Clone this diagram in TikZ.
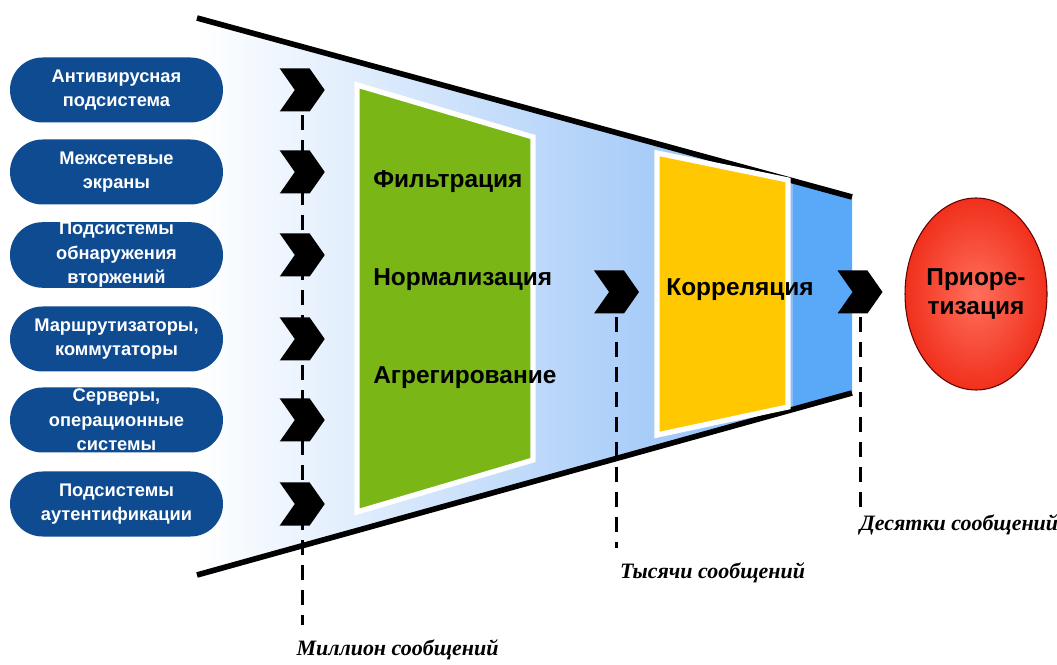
\documentclass[tikz,border=0pt]{standalone}
\usepackage{fontspec}
\setmainfont{Liberation Serif}
\setsansfont{Liberation Sans}
\usepackage{tikz}
\usetikzlibrary{positioning, calc, backgrounds, shapes.geometric, shapes.symbols}
\definecolor{srcblue}{RGB}{15,75,145}
\definecolor{funnelblue}{RGB}{140,188,246}
\definecolor{funneldark}{RGB}{90,168,248}
\definecolor{filtgreen}{RGB}{122,182,22}
\definecolor{corryellow}{RGB}{255,200,0}
\definecolor{prioinner}{RGB}{255,112,92}
\definecolor{priouter}{RGB}{240,48,28}

\begin{document}
\begin{tikzpicture}[
  srcbox/.style={rounded corners=0.65cm, fill=srcblue, text=white, align=center,
                 minimum width=4.26cm, minimum height=1.3cm, inner sep=0pt,
                 font=\sffamily\bfseries\fontsize{10.4}{14}\selectfont},
  chev/.style={signal, signal to=east, signal from=west, signal pointer angle=110,
               fill=black, inner sep=0pt, minimum width=0.9cm, minimum height=0.86cm},
  stage/.style={draw=white, line width=3pt, fill=#1},
  stagetext/.style={anchor=west, inner sep=0pt,
                    font=\sffamily\bfseries\fontsize{13.9}{17}\selectfont},
  funnel/.style={line width=3.2pt},
  level/.style={line width=1.7pt, dash pattern=on 0.3cm off 0.2cm},
  count/.style={font=\rmfamily\bfseries\itshape\fontsize{12.5}{15}\selectfont},
  prio/.style={ellipse, draw=black!60!red, line width=0.6pt, inner sep=0pt,
               inner color=prioinner, outer color=priouter, align=center,
               minimum width=2.84cm, minimum height=3.84cm,
               font=\sffamily\bfseries\fontsize{13.9}{17}\selectfont},
]
\useasboundingbox (0,0) rectangle (21.14,13.28);

% sources
\node[srcbox] (src1) at (2.33,11.48) {Антивирусная\\подсистема};
\node[srcbox] (src2) at (2.33,9.84) {Межсетевые\\экраны};
\node[srcbox] (src3) at (2.33,8.18) {Подсистемы\\обнаружения\\вторжений};
\node[srcbox] (src4) at (2.33,6.50) {Маршрутизаторы,\\коммутаторы};
\node[srcbox] (src5) at (2.33,4.88) {Серверы,\\операционные\\системы};
\node[srcbox] (src6) at (2.33,3.20) {Подсистемы\\аутентификации};

\node[chev, right=1.42cm of src1] (ch1) {};
\node[chev, right=1.42cm of src2] (ch2) {};
\node[chev, right=1.42cm of src3] (ch3) {};
\node[chev, right=1.42cm of src4] (ch4) {};
\node[chev, right=1.42cm of src5] (ch5) {};
\node[chev, right=1.42cm of src6] (ch6) {};
\node[chev] (chcorr) at (12.33,7.44) {};
\node[chev] (chprio) at (17.2,7.44) {};

\node[prio] (prio) at (19.52,7.40) {Приоре-\\тизация};

% message counts
\node[count] (cnt1) at (7.95,0.28) {Миллион сообщений};
\node[count] (cnt2) at (14.25,1.82) {Тысячи сообщений};
\node[count] (cnt3) at (19.18,2.78) {Десятки сообщений};
\coordinate (e1) at (ch1 |- 0,0.78);
\coordinate (e2) at (chcorr |- 0,2.32);
\coordinate (e3) at (chprio |- 0,3.12);

\begin{scope}[on background layer]
  \coordinate (tl) at (3.94,12.92);
  \coordinate (tr) at (17.04,9.34);
  \coordinate (bl) at (3.94,1.78);
  \coordinate (br) at (17.04,5.42);
  \shade[left color=white, middle color=funnelblue!42, right color=funnelblue]
    (tl) -- ($(tl)!0.91!(tr)$) -- ($(bl)!0.91!(br)$) -- (bl) -- cycle;
  \fill[funneldark] ($(tl)!0.91!(tr)$) -- (tr) -- (br) -- ($(bl)!0.91!(br)$) -- cycle;
  \draw[funnel] (tl) -- (tr);
  \draw[funnel] (bl) -- (br);
  \filldraw[stage=filtgreen] (7.14,11.58) -- (10.66,10.54) -- (10.66,4.08) -- (7.14,3.04) -- cycle;
  \filldraw[stage=corryellow] (13.14,10.22) -- (15.76,9.68) -- (15.76,5.14) -- (13.14,4.58) -- cycle;
  \node[stagetext] (filt) at (7.46,9.64) {Фильтрация};
  \node[stagetext] (norm) at (7.46,7.68) {Нормализация};
  \node[stagetext] (aggr) at (7.46,5.72) {Агрегирование};
  \node[stagetext] (corr) at (13.32,7.48) {Корреляция};
  \draw[level] (ch1.center) -- (e1);
  \draw[level] (chcorr.center) -- (e2);
  \draw[level] (chprio.center) -- (e3);
\end{scope}
\end{tikzpicture}
\end{document}
